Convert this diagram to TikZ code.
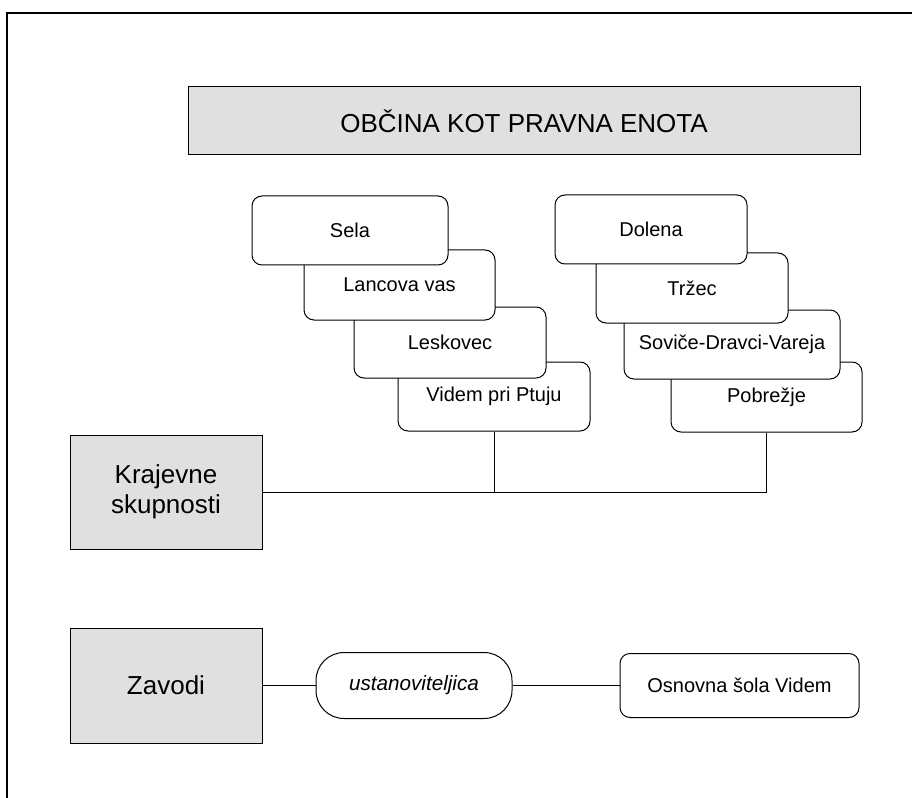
\documentclass[tikz,border=0pt]{standalone}
\usepackage{fontspec}
\setmainfont{Liberation Sans}
\definecolor{boxgray}{HTML}{E0E0E0}
\begin{document}
\begin{tikzpicture}[x=0.75pt,y=-0.75pt,
  graybox/.style={draw=black, fill=boxgray, line width=0.75pt, inner sep=0pt, align=center},
  rbox/.style={draw=black, fill=white, line width=0.75pt, rounded corners=7.5pt, inner sep=0pt,
     font=\fontsize{15}{18}\selectfont},
  link/.style={draw=black, line width=0.75pt},
  bigfont/.style={font=\fontsize{19.5}{22.5}\selectfont}]
\useasboundingbox (0,0) rectangle (912,798);
% frame
\draw[line width=1.6pt] (7,798) -- (7,13) -- (912,13);
% title
\node[graybox, bigfont, minimum width=672*0.75pt, minimum height=68*0.75pt] (title) at (524,121) {OBČINA KOT PRAVNA ENOTA};
% left stack (bottom first)
\node[rbox, minimum width=192*0.75pt, minimum height=69*0.75pt] (videm) at (494,396.5) {Videm pri Ptuju};
\node[rbox, minimum width=192*0.75pt, minimum height=71*0.75pt] (lesk) at (450,342.5) {Leskovec};
\node[rbox, minimum width=191*0.75pt, minimum height=70*0.75pt] (lanc) at (399.5,285) {Lancova vas};
\node[rbox, minimum width=196*0.75pt, minimum height=69*0.75pt] (sela) at (350,230.5) {Sela};
% right stack (bottom first)
\node[rbox, minimum width=191*0.75pt, minimum height=70*0.75pt] (pobr) at (766.5,397) {Pobrežje};
\node[rbox, minimum width=216*0.75pt, minimum height=69*0.75pt] (sovice) at (732,344.5) {Soviče-Dravci-Vareja};
\node[rbox, minimum width=192*0.75pt, minimum height=70*0.75pt] (trzec) at (692,288) {Tržec};
\node[rbox, minimum width=192*0.75pt, minimum height=69*0.75pt] (dolena) at (651,229.5) {Dolena};
% left gray boxes
\node[graybox, bigfont, minimum width=192*0.75pt, minimum height=114*0.75pt] (kraj) at (166,492) {Krajevne\\skupnosti};
\node[graybox, bigfont, minimum width=192*0.75pt, minimum height=115*0.75pt] (zavodi) at (166,685.5) {Zavodi};
% bottom row
\node[rbox, rounded corners=21pt, minimum width=196*0.75pt, minimum height=66*0.75pt, font=\fontsize{15.5}{18}\selectfont\itshape] (ustan) at (414,685.5) {ustanoviteljica};
\node[rbox, minimum width=239*0.75pt, minimum height=64*0.75pt] (osn) at (739.5,685.5) {Osnovna šola Videm};
% connectors
\draw[link] (kraj.east) -- (pobr.south |- kraj.east) -- (pobr.south);
\draw[link] (videm.south) -- (videm.south |- kraj.east);
\draw[link] (zavodi.east) -- (ustan.west);
\draw[link] (ustan.east) -- (osn.west);
\end{tikzpicture}
\end{document}
